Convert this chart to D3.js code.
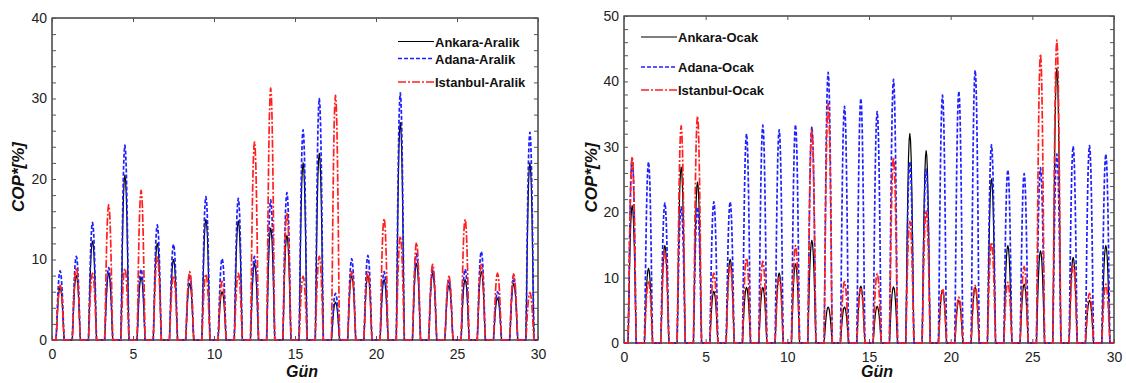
<!DOCTYPE html>
<html>
<head>
<meta charset="utf-8">
<script src="https://cdn.jsdelivr.net/npm/d3@7"></script>
<style>
  html, body { margin: 0; padding: 0; background: #fff; }
  svg { display: block; font-family: "Liberation Sans", Arial, sans-serif; }
</style>
</head>
<body>
<svg id="chart" width="1126" height="383"></svg>
<script>
// ---- Data ----
const days = d3.range(30);
// normalized hourly shape of one daily peak (hours 0..23)
const hourlyProfile = [0,0,0,0,0,0,0,0.22,0.5,0.72,0.88,0.97,1,0.97,0.88,0.72,0.5,0.22,0,0,0,0,0,0];

// daily peak COP* values [%], December (Aralik)
const ankaraAralik   = [6.5, 8, 12.3, 8.3, 20.5, 7.8, 12, 10, 7, 15, 6, 14.8, 9.5, 13.9, 13, 22, 23.2, 4.7, 8, 8, 7.5, 27, 9.5, 8.3, 6.8, 7.5, 8.5, 5.2, 7, 22];
const adanaAralik    = [8.6, 10.4, 14.6, 9, 24.2, 8.8, 14.3, 11.9, 8.1, 17.8, 10.1, 17.6, 10.4, 17.4, 18.3, 26.1, 30, 5.8, 10.1, 10.5, 8.5, 30.7, 10.7, 8.7, 7.5, 8.8, 11, 6, 7.7, 25.8];
const istanbulAralik = [6.8, 9, 8.3, 16.8, 8.9, 18.6, 10.3, 8, 8.5, 8.2, 7.3, 8.3, 24.6, 31.3, 15.8, 7.9, 10.4, 30.4, 8.5, 8.5, 15.1, 12.9, 12.1, 9.4, 7.9, 15, 9.4, 8.3, 8.2, 5.9];

// daily peak COP* values [%], January (Ocak)
const ankaraOcak   = [21, 11.4, 14.9, 26.9, 24.6, 7.9, 12.8, 8.5, 8.5, 10.7, 12.1, 15.7, 5.5, 5.5, 8.7, 5.6, 8.6, 32, 29.4, 8, 6.5, 8.5, 25.1, 14.9, 9, 14.1, 42, 13.1, 6.5, 14.9];
const adanaOcak    = [28.2, 27.7, 21.4, 20.8, 20.8, 21.6, 21.6, 32, 33.3, 32.6, 33.4, 33.1, 41.4, 36.2, 37.4, 35.4, 40.3, 27.7, 26.6, 37.9, 38.5, 41.7, 30.3, 26.5, 25.9, 26.8, 28.9, 30.1, 30.2, 28.9];
const istanbulOcak = [28.5, 9.5, 14.1, 33.2, 34.7, 10.7, 12, 13, 12.5, 10, 14.9, 32.5, 36.6, 9.4, 8.3, 10.6, 28.4, 18.6, 20.3, 8.3, 7, 8.8, 15.4, 9.3, 11.7, 44.2, 46.3, 12, 7.6, 9];

const xTicks = [0, 5, 10, 15, 20, 25, 30];
const yTicksAralik = [0, 10, 20, 30, 40];
const yTicksOcak = [0, 10, 20, 30, 40, 50];

const labelsAralik = ["Ankara-Aralik", "Adana-Aralik", "Istanbul-Aralik"];
const labelsOcak = ["Ankara-Ocak", "Adana-Ocak", "Istanbul-Ocak"];

// ---- Styles ----
const styles = [
  { color: "#000000", dash: null, width: 1.2 },
  { color: "#1f1fff", dash: "4,2", width: 1.7 },
  { color: "#ff2020", dash: "8,2,2,2", width: 1.7 }
];

function hourlySeries(peaks) {
  const pts = [];
  days.forEach(d => {
    hourlyProfile.forEach((p, h) => pts.push([d + h / 24, peaks[d] * p]));
  });
  pts.push([30, 0]);
  return pts;
}

const svg = d3.select("#chart");

function panel(cfg) {
  const { left, right, top, bottom, yMax, yTicks, series, labels, legend, copX, gunX } = cfg;
  const x = d3.scaleLinear().domain([0, 30]).range([left, right]);
  const y = d3.scaleLinear().domain([0, yMax]).range([bottom, top]);
  const g = svg.append("g");

  // frame
  g.append("rect").attr("x", left).attr("y", top)
    .attr("width", right - left).attr("height", bottom - top)
    .attr("fill", "none").attr("stroke", "#111").attr("stroke-width", 1.2);

  // axes (ticks inward)
  const minor = d3.range(0, yMax + 0.001, 2);
  g.append("g").attr("transform", `translate(${left},0)`)
    .call(d3.axisRight(y).tickValues(minor).tickSize(4).tickFormat(""))
    .call(a => a.select(".domain").remove())
    .call(a => a.selectAll("line").attr("stroke", "#555"));
  g.append("g").attr("transform", `translate(${right},0)`)
    .call(d3.axisLeft(y).tickValues(minor).tickSize(4).tickFormat(""))
    .call(a => a.select(".domain").remove())
    .call(a => a.selectAll("line").attr("stroke", "#555"));
  g.append("g").attr("transform", `translate(${left},0)`)
    .call(d3.axisLeft(y).tickValues(yTicks).tickSize(0).tickPadding(5).tickFormat(d3.format("d")))
    .call(a => a.select(".domain").remove())
    .call(a => a.selectAll("text").attr("font-size", 14).attr("fill", "#222")
      .attr("font-family", "Liberation Sans, Arial, sans-serif"));
  g.append("g").attr("transform", `translate(0,${bottom})`)
    .call(d3.axisTop(x).tickValues(xTicks).tickSize(4).tickFormat(""))
    .call(a => a.select(".domain").remove())
    .call(a => a.selectAll("line").attr("stroke", "#555"));
  g.append("g").attr("transform", `translate(0,${top})`)
    .call(d3.axisBottom(x).tickValues(xTicks).tickSize(4).tickFormat(""))
    .call(a => a.select(".domain").remove())
    .call(a => a.selectAll("line").attr("stroke", "#555"));
  g.append("g").attr("transform", `translate(0,${bottom})`)
    .call(d3.axisBottom(x).tickValues(xTicks).tickSize(0).tickPadding(9).tickFormat(d3.format("d")))
    .call(a => a.select(".domain").remove())
    .call(a => a.selectAll("text").attr("font-size", 14).attr("fill", "#222")
      .attr("font-family", "Liberation Sans, Arial, sans-serif"));

  // series (drawn over the frame, so the zero line shows red as in the original)
  const line = d3.line().x(d => x(d[0])).y(d => y(d[1]));
  series.forEach((s, i) => {
    const st = styles[i];
    g.append("path")
      .attr("d", line(hourlySeries(s)))
      .attr("fill", "none")
      .attr("stroke", st.color)
      .attr("stroke-width", st.width)
      .attr("stroke-dasharray", st.dash)
      .attr("stroke-linejoin", "round");
  });

  // axis titles
  g.append("text").attr("x", gunX).attr("y", 377)
    .attr("text-anchor", "middle").attr("font-size", 16)
    .attr("font-weight", "bold").attr("font-style", "italic").attr("fill", "#111")
    .text("Gün");
  g.append("text")
    .attr("transform", `translate(${copX},${(top + bottom) / 2 - 2}) rotate(-90)`)
    .attr("text-anchor", "middle").attr("font-size", 17)
    .attr("font-weight", "bold").attr("font-style", "italic").attr("fill", "#111")
    .text("COP*[%]");

  // legend
  labels.forEach((lab, i) => {
    const st = styles[i];
    const ly = legend.ys[i];
    g.append("line").attr("x1", legend.x1).attr("x2", legend.x2)
      .attr("y1", ly).attr("y2", ly)
      .attr("stroke", st.color).attr("stroke-width", st.width)
      .attr("stroke-dasharray", st.dash);
    g.append("text").attr("x", legend.x2 + 1).attr("y", ly + 5)
      .attr("font-size", 13).attr("font-weight", "bold").attr("fill", "#111")
      .text(lab);
  });
}

panel({
  left: 52, right: 538, top: 18, bottom: 340, yMax: 40, yTicks: yTicksAralik,
  series: [ankaraAralik, adanaAralik, istanbulAralik], labels: labelsAralik,
  legend: { x1: 398, x2: 434, ys: [41.5, 58.5, 82] }, copX: 24, gunX: 302
});
panel({
  left: 624, right: 1114, top: 16, bottom: 343, yMax: 50, yTicks: yTicksOcak,
  series: [ankaraOcak, adanaOcak, istanbulOcak], labels: labelsOcak,
  legend: { x1: 641, x2: 677, ys: [37, 67, 90] }, copX: 597, gunX: 877
});
</script>
</body>
</html>
